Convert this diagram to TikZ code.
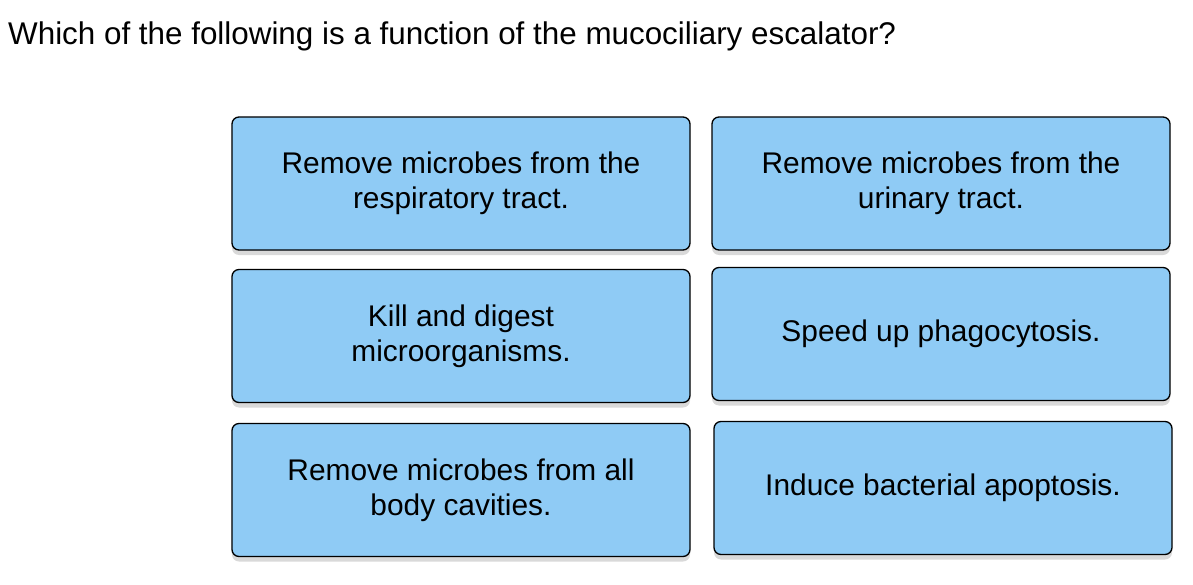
\documentclass[tikz,border=0pt]{standalone}
\usepackage{fontspec}
\setmainfont{Liberation Sans}
\usetikzlibrary{positioning,shadows}
\definecolor{choice}{HTML}{8FCBF5}
\tikzset{
  choicebox/.style={draw=black,line width=1.3bp,fill=choice,rounded corners=7bp,
    minimum width=458bp,minimum height=133bp,align=center,inner sep=0pt,
    font=\fontsize{30}{35}\selectfont,
    drop shadow={shadow xshift=0bp,shadow yshift=-5bp,fill=black!25,opacity=.6}}
}
\begin{document}
\begin{tikzpicture}[x=1bp,y=-1bp]
        \useasboundingbox (0,0) rectangle (1193,585);
        % question
        \node[anchor=west,inner sep=0pt,font=\fontsize{31.5}{36}\selectfont] (q) at (8,36)
          {Which of the following is a function of the mucociliary escalator?};

        % left column
        \node[choicebox] (resp) at (461,183.5) {Remove microbes from the\\respiratory tract.};
        \node[choicebox] (kill) at (461,336) {Kill and digest\\microorganisms.};
        \node[choicebox] (cav) at (461,490) {Remove microbes from all\\body cavities.};

        % right column
        \node[choicebox] (urin) at (941,183.5) {Remove microbes from the\\urinary tract.};
        \node[choicebox] (phag) at (941,334) {Speed up phagocytosis.};
        \node[choicebox] (apop) at (943,488) {Induce bacterial apoptosis.};
      \end{tikzpicture}
\end{document}
